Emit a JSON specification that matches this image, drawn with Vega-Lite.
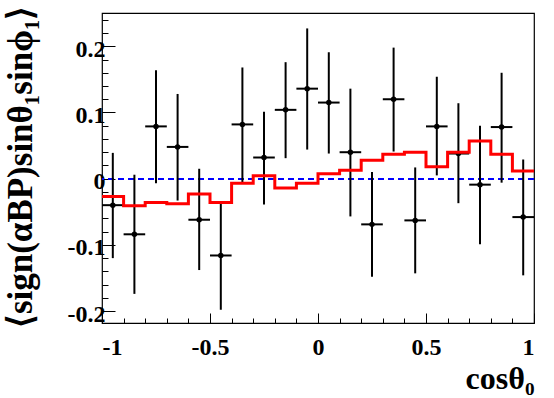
{
  "$schema": "https://vega.github.io/schema/vega-lite/v6.json",
  "width": 432,
  "height": 310,
  "autosize": {"type": "none"},
  "padding": {"left": 102, "top": 13, "right": 20, "bottom": 75},
  "background": "white",
  "config": {
    "view": {"stroke": "#000000", "strokeWidth": 1.2},
    "axis": {"grid": false, "domain": false, "tickColor": "#000000", "labelColor": "#000000", "titleColor": "#000000",
      "labelFont": "Liberation Serif", "labelFontWeight": "bold", "labelFontSize": 24,
      "titleFont": "Liberation Serif", "titleFontWeight": "bold", "titleFontSize": 32, "tickWidth": 1}
  },
  "datasets": {
    "pts": [
      {"x": -0.95, "xlo": -1.0, "xhi": -0.9, "y": -0.040, "ylo": -0.120, "yhi": 0.039},
      {"x": -0.85, "xlo": -0.9, "xhi": -0.8, "y": -0.084, "ylo": -0.174, "yhi": 0.006},
      {"x": -0.75, "xlo": -0.8, "xhi": -0.7, "y": 0.079, "ylo": -0.007, "yhi": 0.164},
      {"x": -0.65, "xlo": -0.7, "xhi": -0.6, "y": 0.048, "ylo": -0.033, "yhi": 0.128},
      {"x": -0.55, "xlo": -0.6, "xhi": -0.5, "y": -0.062, "ylo": -0.138, "yhi": 0.015},
      {"x": -0.45, "xlo": -0.5, "xhi": -0.4, "y": -0.116, "ylo": -0.198, "yhi": -0.034},
      {"x": -0.35, "xlo": -0.4, "xhi": -0.3, "y": 0.082, "ylo": -0.007, "yhi": 0.168},
      {"x": -0.25, "xlo": -0.3, "xhi": -0.2, "y": 0.032, "ylo": -0.039, "yhi": 0.101},
      {"x": -0.15, "xlo": -0.2, "xhi": -0.1, "y": 0.104, "ylo": 0.031, "yhi": 0.176},
      {"x": -0.05, "xlo": -0.1, "xhi": 0.0, "y": 0.136, "ylo": 0.044, "yhi": 0.227},
      {"x": 0.05, "xlo": 0.0, "xhi": 0.1, "y": 0.115, "ylo": 0.038, "yhi": 0.191},
      {"x": 0.15, "xlo": 0.1, "xhi": 0.2, "y": 0.040, "ylo": -0.057, "yhi": 0.136},
      {"x": 0.25, "xlo": 0.2, "xhi": 0.3, "y": -0.069, "ylo": -0.148, "yhi": 0.010},
      {"x": 0.35, "xlo": 0.3, "xhi": 0.4, "y": 0.120, "ylo": 0.041, "yhi": 0.198},
      {"x": 0.45, "xlo": 0.4, "xhi": 0.5, "y": -0.063, "ylo": -0.143, "yhi": 0.017},
      {"x": 0.55, "xlo": 0.5, "xhi": 0.6, "y": 0.079, "ylo": 0.005, "yhi": 0.154},
      {"x": 0.65, "xlo": 0.6, "xhi": 0.7, "y": 0.038, "ylo": -0.037, "yhi": 0.114},
      {"x": 0.75, "xlo": 0.7, "xhi": 0.8, "y": -0.009, "ylo": -0.099, "yhi": 0.080},
      {"x": 0.85, "xlo": 0.8, "xhi": 0.9, "y": 0.078, "ylo": -0.006, "yhi": 0.160},
      {"x": 0.95, "xlo": 0.9, "xhi": 1.0, "y": -0.058, "ylo": -0.146, "yhi": 0.029}
    ],
    "hist": [
      {"edge": -1.0, "v": -0.027},
      {"edge": -0.9, "v": -0.041},
      {"edge": -0.8, "v": -0.036},
      {"edge": -0.7, "v": -0.038},
      {"edge": -0.6, "v": -0.023},
      {"edge": -0.5, "v": -0.036},
      {"edge": -0.4, "v": -0.007},
      {"edge": -0.3, "v": 0.0045},
      {"edge": -0.2, "v": -0.014},
      {"edge": -0.1, "v": -0.007},
      {"edge": 0.0, "v": 0.0076},
      {"edge": 0.1, "v": 0.0126},
      {"edge": 0.2, "v": 0.028},
      {"edge": 0.3, "v": 0.037},
      {"edge": 0.4, "v": 0.040},
      {"edge": 0.5, "v": 0.018},
      {"edge": 0.6, "v": 0.040},
      {"edge": 0.7, "v": 0.057},
      {"edge": 0.8, "v": 0.037},
      {"edge": 0.9, "v": 0.0116},
      {"edge": 1.0, "v": 0.0116}
    ]
  },
  "resolve": {"axis": {"x": "independent", "y": "independent"}},
  "layer": [
    {
      "data": {"name": "pts"},
      "mark": {"type": "rule", "color": "#0000ff", "strokeWidth": 1.5, "strokeDash": [6, 4]},
      "encoding": {
        "y": {"datum": 0, "type": "quantitative", "scale": {"domain": [-0.218, 0.2503], "nice": false, "zero": false}, "axis": null}
      }
    },
    {
      "data": {"name": "pts"},
      "mark": {"type": "rule", "color": "#000000", "strokeWidth": 2},
      "encoding": {
        "x": {"field": "xlo", "type": "quantitative", "scale": {"domain": [-1, 1], "nice": false, "zero": false}, "axis": null},
        "x2": {"field": "xhi"},
        "y": {"field": "y", "type": "quantitative", "axis": null}
      }
    },
    {
      "data": {"name": "pts"},
      "mark": {"type": "rule", "color": "#000000", "strokeWidth": 2},
      "encoding": {
        "x": {"field": "x", "type": "quantitative",
          "axis": {"orient": "bottom", "values": [-0.9, -0.8, -0.7, -0.6, -0.4, -0.3, -0.2, -0.1, 0.1, 0.2, 0.3, 0.4, 0.6, 0.7, 0.8, 0.9], "tickSize": -5, "labels": false, "title": null}},
        "y": {"field": "ylo", "type": "quantitative",
          "axis": {"orient": "left", "values": [-0.2, -0.18, -0.16, -0.14, -0.12, -0.1, -0.08, -0.06, -0.04, -0.02, 0, 0.02, 0.04, 0.06, 0.08, 0.1, 0.12, 0.14, 0.16, 0.18, 0.2, 0.22, 0.24], "tickSize": -6, "labels": false, "title": null}},
        "y2": {"field": "yhi"}
      }
    },
    {
      "data": {"name": "pts"},
      "mark": {"type": "circle", "color": "#000000", "opacity": 1, "size": 30},
      "encoding": {
        "x": {"field": "x", "type": "quantitative",
          "axis": {"orient": "bottom", "values": [-1, -0.5, 0, 0.5, 1], "tickSize": -10, "labelPadding": 22, "labelExpr": "'' + datum.value",
            "title": "cosθ₀", "titleAnchor": "end", "titleAlign": "right", "titlePadding": 4}},
        "y": {"field": "y", "type": "quantitative",
          "axis": {"orient": "left", "values": [-0.2, -0.1, 0, 0.1, 0.2], "tickSize": -13, "labelPadding": 10, "labelOffset": 3, "labelExpr": "'' + datum.value",
            "title": "⟨sign(αBP)sinθ₁sinϕ₁⟩", "titleAnchor": "end", "titleFontSize": 35, "titleY": -8, "titlePadding": 29}}
      }
    },
    {
      "data": {"name": "hist"},
      "mark": {"type": "line", "color": "#ff0000", "strokeWidth": 3, "interpolate": "step-after"},
      "encoding": {
        "x": {"field": "edge", "type": "quantitative", "axis": null},
        "y": {"field": "v", "type": "quantitative", "axis": null}
      }
    }
  ]
}
